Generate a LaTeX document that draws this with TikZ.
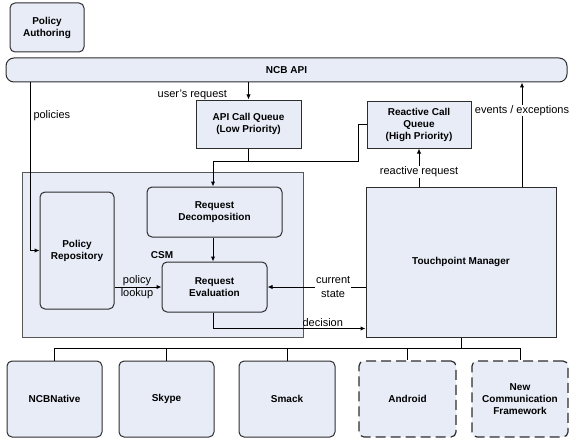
\documentclass[tikz,border=0pt]{standalone}
\usepackage{fontspec}
\setmainfont{Liberation Sans}
\usetikzlibrary{arrows.meta}
\usetikzlibrary{positioning}
\definecolor{boxfill}{RGB}{231,236,247}
\definecolor{boxline}{RGB}{45,45,45}
\tikzset {
  % component boxes
  comp/.style = {
    draw = boxline,
    fill = boxfill,
    line width = 1pt,
    font = \bfseries,
    align = center,
    inner sep = 2pt
  },
  rcomp/.style = {
    comp,
    rounded corners = 5pt
  },
  % not yet implemented
  planned/.style = {
    rcomp,
    line width = 1.2pt,
    dash pattern = on 10pt off 5pt
  },
  % path style with arrow at the end
  arr/.style = {
    draw = black,
    line width = 1pt,
    -{Latex[length=5pt,width=4.5pt]}
  },
  % path style with no arrows
  narr/.style = {
    draw = black,
    line width = 1pt
  },
  lbl/.style = {
    inner sep = 1pt,
    align = center,
    font = \fontsize{11}{13.5}\selectfont
  }
}

\begin{document}
\begin{tikzpicture}[x=1pt, y=-1pt, font=\fontsize{11}{13}\selectfont]
    \useasboundingbox (0,0) rectangle (569,441);

    \node[rcomp, minimum width=74pt, minimum height=49pt] (authoring) at (47,27.5) {Policy\\Authoring};
    \node[comp, rounded corners=8pt, minimum width=561pt, minimum height=24pt] (ncbapi) at (286.5,70) {NCB API};
    \node[comp, minimum width=105pt, minimum height=48pt] (lowqueue) at (248.5,124) {API Call Queue\\(Low Priority)};
    \node[comp, minimum width=104pt, minimum height=47pt] (highqueue) at (419,124.5) {Reactive Call\\Queue\\(High Priority)};

    % CSM container
    \node[comp, draw=boxline!80, minimum width=281pt, minimum height=165pt] (csm) at (162.5,254.5) {};
    \node[font=\bfseries] (csm-label) at (162,255) {CSM};
    \node[rcomp, minimum width=74pt, minimum height=117pt] (repository) at (77,250.5) {Policy\\Repository};
    \node[rcomp, minimum width=135pt, minimum height=50pt] (decomposition) at (214.5,212) {Request\\Decomposition};
    \node[rcomp, minimum width=105pt, minimum height=50pt] (evaluation) at (214.5,287) {Request\\Evaluation};

    \node[comp, minimum width=190pt, minimum height=150pt] (touchpoint) at (461,262) {Touchpoint Manager};

    % communication frameworks
    \node[rcomp, minimum width=95pt, minimum height=76pt] (ncbnative) at (54.5,399) {NCBNative};
    \node[rcomp, minimum width=95pt, minimum height=76pt] (skype) at (166.5,399) {Skype};
    \node[rcomp, minimum width=96pt, minimum height=76pt] (smack) at (287,399) {Smack};
    \node[planned, minimum width=97pt, minimum height=76pt] (android) at (407.5,399) {Android};
    \node[planned, minimum width=96pt, minimum height=76pt] (ncf) at (520,399) {New\\Communication\\Framework};

    \coordinate (merge) at (213,161.5);
    \coordinate (hq-turn) at (358,161.5);
    \coordinate (bus) at (461,348);

    \draw[arr] (ncbapi.south -| lowqueue.north)
      -- node[lbl, pos=0.7, left=20pt] {user's request} (lowqueue.north);

    \draw[narr] (lowqueue.south) -- (lowqueue.south |- merge);

    \draw[arr] (highqueue.west)
      -| (hq-turn)
      -- (merge)
      -- (merge |- decomposition.north);

    \draw[arr] (decomposition.south -| merge) -- (evaluation.north -| merge);

    \draw[arr] (touchpoint.north -| highqueue.south)
      -- node[lbl, pos=0.38, fill=white] {reactive request} (highqueue.south);

    \draw[arr] ([xshift=61pt]touchpoint.north)
      -- node[lbl, pos=0.73, fill=white, inner sep=0pt] {events / exceptions} ([xshift=61pt]touchpoint.north |- ncbapi.south);

    \draw[arr] (ncbapi.south -| 30,0)
      |- node[lbl, pos=0.1, right=2pt] {policies} (repository.west);

    \draw[arr] (repository.east |- evaluation.west)
      -- node[lbl, xshift=-1pt] {policy\\lookup} (evaluation.west);

    \draw[arr] (touchpoint.west |- evaluation.east)
      -- node[lbl, pos=0.33, fill=white] {current\\state} (evaluation.east);

    \draw[arr] (evaluation.south -| merge)
      |- node[lbl, pos=0.86, above] {decision} ([yshift=9pt]touchpoint.south west);

    \draw[narr] (touchpoint.south) -- (bus);
    \foreach \fw in {ncbnative, skype, smack, android, ncf}
      \draw[narr] (bus) -| (\fw.north);
  \end{tikzpicture}
\end{document}
